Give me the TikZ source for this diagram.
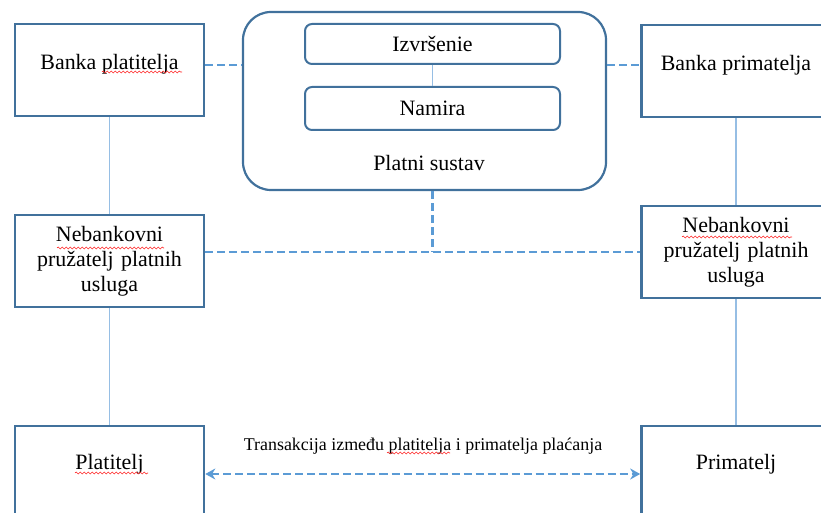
\documentclass[tikz,border=0pt]{standalone}
\usepackage{fontspec}
\setmainfont{Liberation Serif}
\usetikzlibrary{arrows.meta,decorations.pathmorphing}
\definecolor{boxblue}{RGB}{65,113,156}
\definecolor{lineblue}{RGB}{150,190,228}
\definecolor{dashblue}{RGB}{91,155,213}

\begin{document}
\begin{tikzpicture}[x=1bp,y=-1bp,
    box/.style={draw=boxblue,line width=2.6bp,minimum width=189bp,minimum height=92bp,inner sep=0pt,font=\fontsize{22}{25}\selectfont},
    topbox/.style={box,text height=15bp,text depth=16bp},
    lowbox/.style={box,text height=15bp,text depth=21bp},
    midbox/.style={box,text width=185bp,align=center},
    inbox/.style={draw=boxblue,line width=2bp,rounded corners=7bp,minimum width=255bp,inner sep=0pt,font=\fontsize{22}{25}\selectfont},
    solidline/.style={draw=lineblue,line width=1.4bp},
    dashline/.style={draw=dashblue,line width=2.2bp,dash pattern=on 8bp off 4bp},
    spell/.style={draw=red!85,line width=0.6bp,decorate,decoration={snake,amplitude=1bp,segment length=4bp}}]

    \useasboundingbox (0,0) rectangle (821,513);
    \clip (0,0) rectangle (821,513);

    % payment system in the middle
    \node[draw=boxblue,line width=2.2bp,rounded corners=28bp,minimum width=363bp,minimum height=178bp](sys) at (424.5,101) {};
    \node[inbox,minimum height=40bp](izv) at (432.5,44) {Izvršenie};
    \node[inbox,minimum height=43bp](nam) at (432.5,108.5) {Namira};
    \node[font=\fontsize{22}{25}\selectfont](ps) at (429,163) {Platni sustav};

    % payer side
    \node[topbox](bp) at (109.5,70) {Banka platitelja};
    \node[midbox](np) at (109.5,261) {Nebankovni\\pružatelj platnih\\usluga};
    \node[lowbox](plt) at (109.5,472) {Platitelj};

    % payee side
    \node[topbox](bpr) at (736,71) {Banka primatelja};
    \node[midbox](npr) at (736,252) {Nebankovni\\pružatelj platnih\\usluga};
    \node[lowbox](prm) at (736,472) {Primatelj};

    \node[font=\fontsize{18}{21}\selectfont](trans) at (423,446) {Transakcija između platitelja i primatelja plaćanja};

    % solid links
    \draw[solidline] (izv.south) -- (nam.north);
    \draw[solidline] (bp.south) -- (np.north);
    \draw[solidline] (np.south) -- (plt.north);
    \draw[solidline] (bpr.south) -- (npr.north);
    \draw[solidline] (npr.south) -- (prm.north);

    % dashed links
    \draw[dashline] (bp.east |- izv.south) -- (sys.west |- izv.south);
    \draw[dashline] (sys.east |- izv.south) -- (bpr.west |- izv.south);
    \draw[dashline] (nam.south |- sys.south) -- (nam.south |- npr.west);
    \draw[dashline] (np.east |- npr.west) -- (npr.west);
    \draw[dashline,{Stealth[length=10bp,width=11bp]}-{Stealth[length=10bp,width=11bp]}] (plt.east |- 0,474) -- (prm.west |- 0,474);

    % spell check marks
    \draw[spell] (102,72) -- (182,72);
    \draw[spell] (57,248) -- (164,248);
    \draw[spell] (682,237) -- (792,237);
    \draw[spell] (75,473) -- (148,473);
    \draw[spell] (387,453) -- (450,453);

\end{tikzpicture}
\end{document}
